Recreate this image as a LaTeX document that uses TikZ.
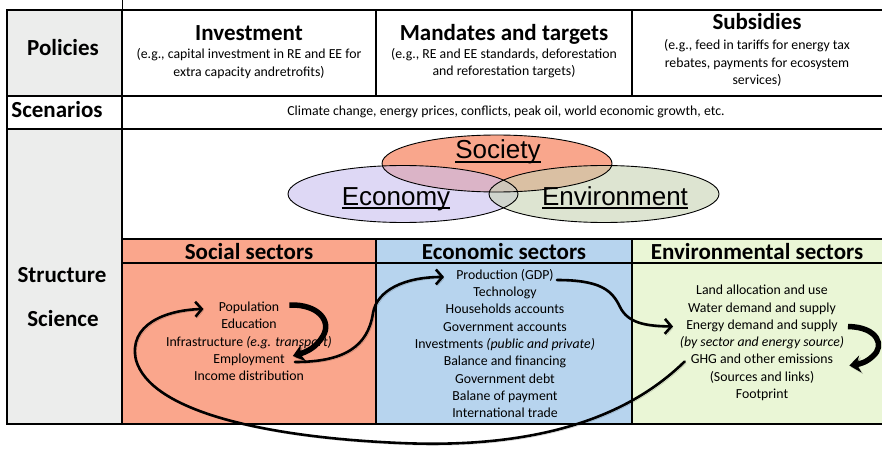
\documentclass[tikz,border=0pt]{standalone}
\usepackage{fontspec}
\setmainfont{Carlito}
\newfontfamily\arialfont{Liberation Sans}
\usetikzlibrary{arrows.meta,calc,shapes.geometric}

\definecolor{leftgray}{RGB}{236,237,236}
\definecolor{socialfill}{RGB}{250,166,140}
\definecolor{econfill}{RGB}{183,212,238}
\definecolor{envfill}{RGB}{234,246,214}
\definecolor{socbubble}{RGB}{245,107,63}
\definecolor{econbubble}{RGB}{200,190,238}
\definecolor{envbubble}{RGB}{198,210,178}

\begin{document}
\begin{tikzpicture}[x=1pt,y=-1pt,
  grid/.style={line width=2.4pt, line cap=rect},
  boxline/.style={line width=2pt},
  head/.style={font=\bfseries\fontsize{23}{27}\selectfont, inner sep=0pt, text height=16pt, text depth=4.5pt},
  body/.style={font=\fontsize{13.8}{17.2}\selectfont, align=center, inner sep=1pt},
  item/.style={font=\fontsize{13.8}{17.2}\selectfont, inner sep=1pt, text height=9.5pt, text depth=3pt},
  bubble/.style={ellipse, minimum width=230pt, minimum height=57pt, inner sep=0pt},
  bubblelabel/.style={font=\arialfont\fontsize{26}{30}\selectfont, anchor=base, inner sep=0pt},
  shadowed/.style={preaction={draw=black, draw opacity=0.22, transform canvas={xshift=1.6pt,yshift=-1.6pt}}},
  flow/.style={line width=2.6pt, line cap=round, -{Straight Barb[length=6.5pt,width=15pt]}, shadowed},
  bigflow/.style={line width=5.5pt, -{Stealth[length=11pt,width=17pt]}, shadowed},
]
\useasboundingbox (0,0) rectangle (882,449);

% cell backgrounds
\fill[leftgray] (7,10) rectangle (122,96);
\fill[leftgray] (7,129) rectangle (122,424);
\fill[socialfill] (122,239) rectangle (376,424);
\fill[econfill] (376,239) rectangle (632,424);
\fill[envfill] (632,239) rectangle (886,424);

% table rules
\draw[grid] (7,10) -- (886,10);
\draw[grid] (7,96) -- (886,96);
\draw[grid] (7,129) -- (886,129);
\draw[grid] (7,424) -- (886,424);
\draw[grid] (7,10) -- (7,424);
\draw[grid] (122,10) -- (122,424);
\draw[line width=1pt] (122,0) -- (122,10);
\draw[grid] (376,10) -- (376,96);
\draw[grid] (632,10) -- (632,96);
\draw[boxline] (122,239) -- (886,239);
\draw[boxline] (122,263) -- (886,263);
\draw[boxline] (376,239) -- (376,424);
\draw[boxline] (632,239) -- (632,424);

% row labels
\node[head] (policies) at (63,50) {Policies};
\node[head] (scenarios) at (57,112) {Scenarios};
\node[head] (structure) at (62,277) {Structure};
\node[head] (science) at (63,321) {Science};

% policy columns
\node[head] (investment) at (249,35) {Investment};
\node[body] (investmentnote) at (249,63.5) {(e.g., capital investment in RE and EE for\\extra capacity andretrofits)};
\node[head] (mandates) at (504,35) {Mandates and targets};
\node[body] (mandatesnote) at (504,63.5) {(e.g., RE and EE standards, deforestation\\and reforestation targets)};
\node[head] (subsidies) at (757,24) {Subsidies};
\node[body] (subsidiesnote) at (757,63) {(e.g., feed in tariffs for energy tax\\rebates, payments for ecosystem\\services)};

% scenarios
\node[body] (scenariotext) at (506,112) {Climate change, energy prices, conflicts, peak oil, world economic growth, etc.};

% overlapping spheres
\node[bubble, fill=socbubble, fill opacity=0.6] (society) at (497,163.5) {};
\node[bubble, fill=econbubble, fill opacity=0.6] (economy) at (403,194) {};
\node[bubble, fill=envbubble, fill opacity=0.6] (environment) at (604,194) {};
\draw[line width=0.9pt] (society.center) ellipse [x radius=115, y radius=28.5];
\draw[line width=0.9pt] (economy.center) ellipse [x radius=115, y radius=28.5];
\draw[line width=0.9pt] (environment.center) ellipse [x radius=115, y radius=28.5];

\node[bubblelabel] (societylabel) at (498,159) {Society};
\node[bubblelabel] (economylabel) at (396,205) {Economy};
\node[bubblelabel] (environmentlabel) at (615,205) {Environment};
\foreach \n in {societylabel,economylabel,environmentlabel}
  \draw[line width=1.9pt] ($(\n.base west)+(0,2.9)$) -- ($(\n.base east)+(0,2.9)$);

% sector headers
\node[head] (socialhead) at (249,254) {Social sectors};
\node[head] (econhead) at (504,254) {Economic sectors};
\node[head] (envhead) at (757,254) {Environmental sectors};

% social sector items
\node[item] (pop) at (249,308) {Population};
\node[item] (edu) at (249,325.5) {Education};
\node[item] (infra) at (249,343) {Infrastructure \emph{(e.g. transport)}};
\node[item] (emp) at (249,360) {Employment};
\node[item] (inc) at (249,377.5) {Income distribution};

% economic sector items
\node[item] (prod) at (505,276) {Production (GDP)};
\node[item] (tech) at (505,293) {Technology};
\node[item] (house) at (505,310.5) {Households accounts};
\node[item] (gov) at (505,328) {Government accounts};
\node[item] (invest) at (505,345) {Investments \emph{(public and private)}};
\node[item] (balance) at (505,362.5) {Balance and financing};
\node[item] (debt) at (505,380) {Government debt};
\node[item] (payment) at (505,397) {Balane of payment};
\node[item] (trade) at (505,414) {International trade};

% environmental sector items
\node[item] (land) at (762,291) {Land allocation and use};
\node[item] (water) at (762,309) {Water demand and supply};
\node[item] (energy) at (762,326.5) {Energy demand and supply};
\node[item] (bysector) at (762,343.5) {\emph{(by sector and energy source)}};
\node[item] (ghg) at (762,360.5) {GHG and other emissions};
\node[item] (sources) at (762,378) {(Sources and links)};
\node[item] (footprint) at (762,395) {Footprint};

% feedback loops
\draw[bigflow] ($(pop.east)+(9,-3)$) .. controls (318,304) and (332,321) .. (323,336)
  .. controls (316,348) and (306,352) .. ($(emp.east)+(7,-4)$);
\draw[flow] ($(emp.east)+(9,2)$) .. controls (345,362) and (368,346) .. (373,313)
  .. controls (377,290) and (405,277) .. ($(prod.west)+(-11,1)$);
\draw[flow] ($(prod.east)+(2,4)$) .. controls (600,280) and (612,290) .. (620,307)
  .. controls (628,323) and (645,326) .. ($(energy.west)+(-12,0)$);
\draw[bigflow] ($(energy.east)+(9,0)$) .. controls (878,327) and (885,346) .. (873,356)
  .. controls (867,362) and (860,364) .. ($(ghg.east)+(15,5)$);
\draw[flow] ($(ghg.west)+(-5,1)$) .. controls (640,405) and (560,450) .. (400,443)
  .. controls (260,437) and (150,410) .. (136,360)
  .. controls (128,325) and (165,310) .. ($(pop.west)+(-14,1)$);
\end{tikzpicture}
\end{document}
